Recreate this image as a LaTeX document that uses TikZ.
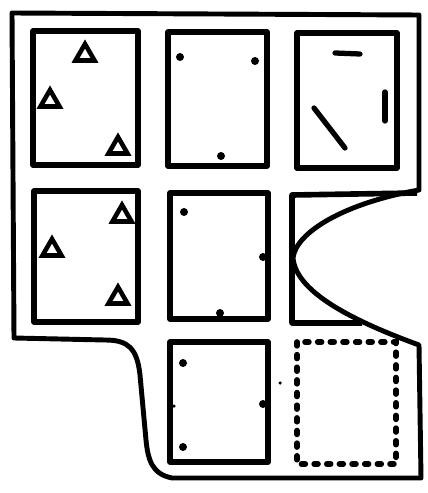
\documentclass[tikz,border=0pt]{standalone}
\usepackage{xcolor}
\usepackage{tikz}
\usetikzlibrary{shapes.geometric}
\usetikzlibrary{positioning}

\begin{document}
\begin{tikzpicture}[
    x=0.02cm, y=-0.02cm,
    wall/.style={line width=2.8pt, line join=round},
    cell/.style={line width=3.2pt, line join=round},
    dotted cell/.style={line width=3.2pt, line cap=round, dash pattern=on 2.2pt off 5pt},
    tri/.style={regular polygon, regular polygon sides=3, draw, line width=2.6pt, minimum size=0.44cm, inner sep=0pt},
    blob/.style={circle, fill, minimum size=0.16cm, inner sep=0pt},
    speck/.style={circle, fill, minimum size=0.07cm, inner sep=0pt},
    stroke/.style={line width=3pt, line cap=round},
  ]
  \useasboundingbox (0,0) rectangle (428,493);

  % Outer outline
  \draw[wall] (12,13) -- (419,15) -- (419,190)
    .. controls (345,203) and (296,232) .. (293,258)
    .. controls (296,290) and (345,318) .. (419,345)
    -- (421,478) -- (172,478)
    .. controls (152,474) and (148,460) .. (146,440)
    -- (140,375)
    .. controls (137,348) and (128,340) .. (105,340)
    -- (14,338) -- cycle;

  % Cells, row 1
  \draw[cell] (33,31) rectangle (138,165);
  \draw[cell] (168,32) rectangle (267,166);
  \draw[cell] (297,33) rectangle (397,168);

  % Cells, row 2
  \draw[cell] (34,191) rectangle (138,322);
  \draw[cell] (170,193) rectangle (268,319);
  \draw[cell] (417,193) -- (292,195) -- (292,323) -- (362,323);

  % Cells, row 3
  \draw[cell] (170,342) rectangle (268,462);
  \draw[dotted cell] (297,342) rectangle (396,464);

  % Triangles
  \node[tri] (t1) at (85,55)   {};
  \node[tri] (t2) at (50,101)  {};
  \node[tri] (t3) at (118,148) {};
  \node[tri] (t4) at (122,216) {};
  \node[tri] (t5) at (52,250)  {};
  \node[tri] (t6) at (118,298) {};

  % Dots
  \node[blob] (d1) at (180,57)  {};
  \node[blob] (d2) at (255,61)  {};
  \node[blob] (d3) at (221,156) {};
  \node[blob] (d4) at (184,212) {};
  \node[blob] (d5) at (263,257) {};
  \node[blob] (d6) at (220,313) {};
  \node[blob] (d7) at (183,363) {};
  \node[blob] (d8) at (263,404) {};
  \node[blob] (d9) at (183,447) {};
  \node[speck] (s1) at (280,383) {};
  \node[speck] (s2) at (174,406) {};

  % Strokes in the top right cell
  \coordinate (h1) at (335,53);
  \coordinate (h2) at (360,54);
  \coordinate (v1) at (385,92);
  \coordinate (v2) at (385,121);
  \coordinate (g1) at (314,108);
  \coordinate (g2) at (345,148);
  \draw[stroke] (h1) -- (h2);
  \draw[stroke] (v1) -- (v2);
  \draw[stroke] (g1) -- (g2);

\end{tikzpicture}
\end{document}
